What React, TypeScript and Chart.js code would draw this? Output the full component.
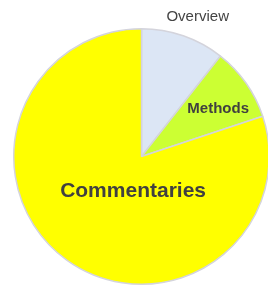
import React, { useEffect, useRef } from "react";
import { Chart, registerables } from "chart.js";

Chart.register(...registerables);

const categories = ["Overview", "Methods", "Commentaries"];
const values = [10.6, 9.3, 80.1];
const colors = ["#dce6f5", "#ccff33", "#ffff00"];

// label placement relative to pie centre, as fractions of the radius
const labelFx = [0.44, 0.6, -0.066];
const labelFy = [-1.09, -0.375, 0.27];
const labelFonts = [
  "normal 15px 'Liberation Sans', Arial, sans-serif",
  "bold 15px 'Liberation Sans', Arial, sans-serif",
  "bold 21px 'Liberation Sans', Arial, sans-serif",
];
const labelColors = ["#444444", "#404040", "#404040"];

const labelPlugin = {
  id: "sliceLabels",
  afterDatasetsDraw(chart: any) {
    const meta = chart.getDatasetMeta(0);
    const arc = meta.data[0];
    if (!arc) return;
    const { x, y, outerRadius } = arc.getProps(["x", "y", "outerRadius"], true);
    const ctx = chart.ctx;
    ctx.save();
    ctx.textAlign = "center";
    ctx.textBaseline = "middle";
    categories.forEach((c, i) => {
      ctx.font = labelFonts[i];
      ctx.fillStyle = labelColors[i];
      ctx.fillText(c, x + labelFx[i] * outerRadius, y + labelFy[i] * outerRadius);
    });
    ctx.restore();
  },
};

export default function App() {
  const ref = useRef<HTMLCanvasElement>(null);
  useEffect(() => {
    if (!ref.current) return;
    const chart = new Chart(ref.current, {
      type: "pie",
      data: {
        labels: categories,
        datasets: [
          {
            data: values,
            backgroundColor: colors,
            borderColor: "#d4d4dc",
            borderWidth: 1.5,
          },
        ],
      },
      options: {
        responsive: false,
        animation: false,
        layout: { padding: { top: 28, bottom: 1, left: 13, right: 14 } },
        plugins: { legend: { display: false }, tooltip: { enabled: false } },
      },
      plugins: [labelPlugin],
    });
    return () => chart.destroy();
  }, []);
  return (
    <div
      style={{
        position: "absolute",
        left: 0,
        top: 0,
        width: 268,
        height: 286,
        overflow: "hidden",
        background: "#ffffff",
      }}
    >
      <canvas ref={ref} width={284} height={286} style={{ display: "block" }} />
    </div>
  );
}
